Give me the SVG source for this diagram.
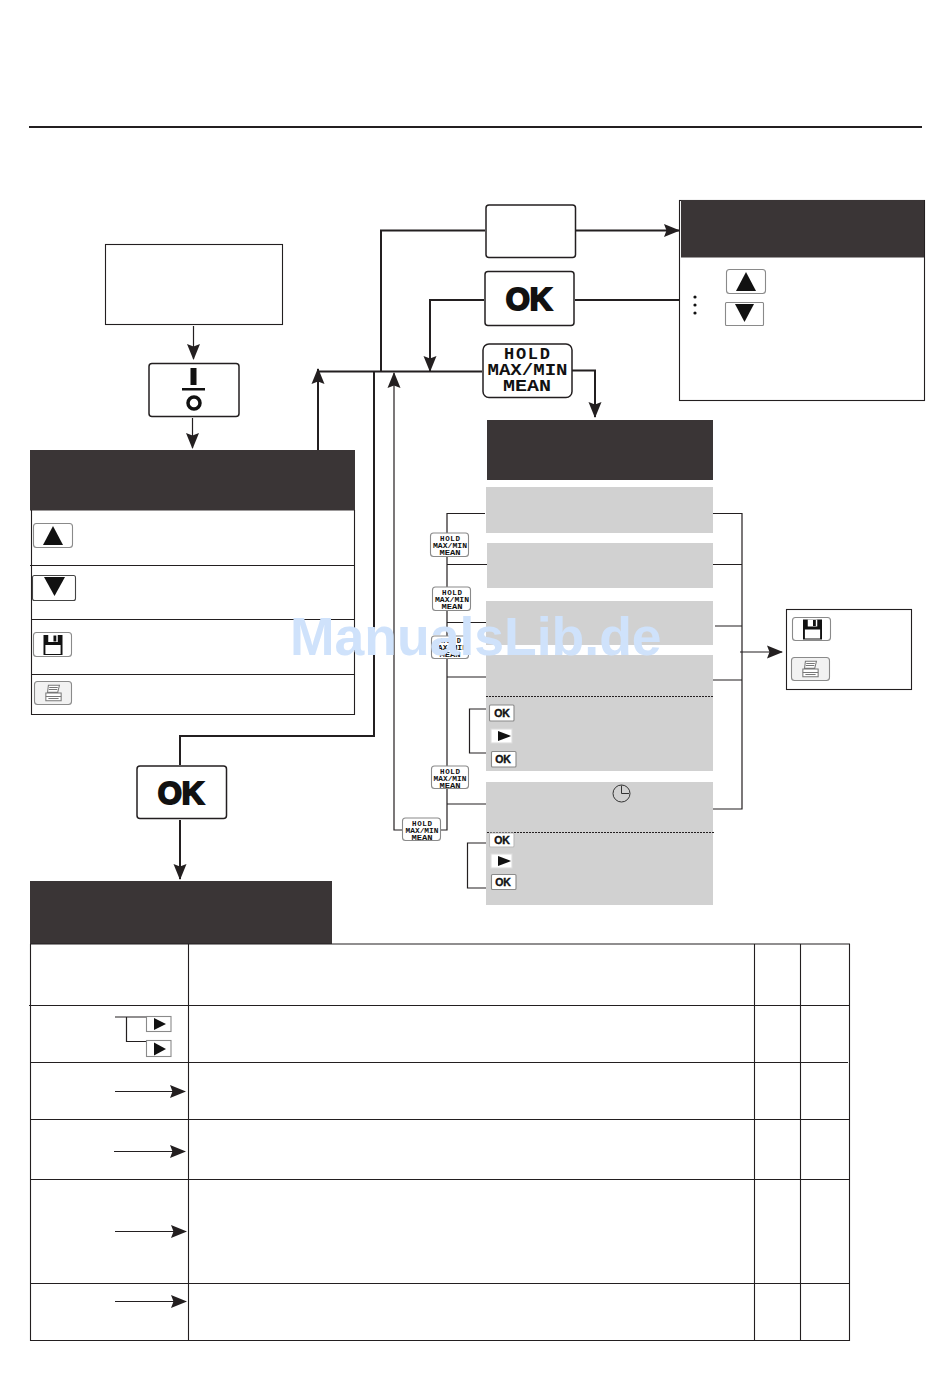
<svg xmlns="http://www.w3.org/2000/svg" width="950" height="1378" viewBox="0 0 950 1378">
<style>
.bg{fill:#fff}
.c{fill:none;stroke:#231f20;stroke-width:2}
.t{fill:none;stroke:#231f20;stroke-width:1.2}
.a{marker-end:url(#ah)}
.dark{fill:#3a3536}
.gray{fill:#d1d1d1}
.box{fill:#fff;stroke:#231f20;stroke-width:1.1}
.big{fill:#fff;stroke:#231f20;stroke-width:1.5}
.key{fill:#fff;stroke:#8a8a8a;stroke-width:1.1}
.ok{font-family:"Liberation Sans",Arial,sans-serif;font-weight:700;fill:#111;text-anchor:middle;stroke:#111}
.hold{font-family:"Liberation Mono",monospace;font-weight:700;fill:#111;text-anchor:middle}
.g{fill:#111}
.wm{font-family:"Liberation Sans",Arial,sans-serif;font-weight:700;font-size:53.500px;fill:#cfe2fb}
</style>
<defs>
<marker id="ah" markerUnits="userSpaceOnUse" markerWidth="18" markerHeight="16" refX="15" refY="7.500" orient="auto">
<path d="M0,1 L16,7.500 L0,14 L2.500,7.500 Z" fill="#231f20"/>
</marker>
<symbol id="floppy" viewBox="0 0 20 20" preserveAspectRatio="none" overflow="visible">
<path d="M0,0H20V20H0Z" fill="#111"/>
<path d="M2,10H18V19H2Z" fill="#fff"/>
<path d="M5,0H15V7H5Z" fill="#fff"/>
<path d="M10.500,0.500H13.500V6.500H10.500Z" fill="#111"/>
</symbol>
<symbol id="printer" viewBox="0 0 20 20" overflow="visible">
<path d="M4,1H17L15,9H3Z M1,10H19V19H1Z" fill="#fff" stroke="#777" stroke-width="1.2"/>
<path d="M5,3.500H15 M4.500,6H14.500 M1,14H19 M4,16.500H16" stroke="#777" stroke-width="1.2" fill="none"/>
</symbol>
</defs>
<rect class="bg" width="950" height="1378"/>
<g id="connectors">
<path class="c" d="M29,127H922"/>
<path class="t a" d="M193.500,326V359"/>
<path class="t a" d="M192.500,418V448"/>
<path class="c a" d="M318,450V369"/>
<path class="c" d="M318,371.500H482"/>
<path class="c" d="M381,371V230.500H485"/>
<path class="c a" d="M576,230.500H679"/>
<path class="c" d="M575,300H679"/>
<path class="c a" d="M484,300H430V371"/>
<path class="c a" d="M572,370.500H595V417"/>
<path class="c" d="M374,371V736H180V765"/>
<path class="c a" d="M180,820V879"/>
<path class="t a" d="M402,830H394V373"/>
<path class="t" d="M441,830H447V513.500H485"/>
<path class="t" d="M447,564.500H487M447,622.500H486M447,677H486M447,804H486"/>
<path class="t" d="M713,513.500H742V809H713M713,564.500H742M715,626H742M713,680H742"/>
<path class="t a" d="M740,652H782"/>
<path class="t" d="M489,709H469.500V753H491"/>
<path class="t" d="M489,843H467.500V888H491"/>
<path class="t" d="M115,1017H146M126.500,1017V1041.500H146"/>
<path class="t a" d="M115,1091.500H185"/>
<path class="t a" d="M114,1151.500H185"/>
<path class="t a" d="M115,1231.500H186"/>
<path class="t a" d="M115,1301.500H186"/>
</g>
<g id="start"><rect class="box" x="105.500" y="244.500" width="177" height="80"/></g>
<g id="key-power">
<rect class="big" x="149" y="363.500" width="90" height="53" rx="3"/>
<rect class="g" x="190.500" y="368" width="6" height="17"/>
<rect class="g" x="182" y="388" width="23" height="2.500"/>
<circle cx="194" cy="403" r="6" fill="none" stroke="#111" stroke-width="3.500"/>
</g>
<g id="menu-main">
<rect class="dark" x="30" y="450" width="325" height="60.500"/>
<path class="box" d="M31.500,510V714.500H354.500V510M30,565.500H354.500M31,619.500H354.500M31,674.500H354" style="fill:none"/>
<rect class="key" x="33.500" y="523.500" width="39" height="24" rx="3"/>
<path class="g" d="M43,545L53,526L63,545Z"/>
<rect class="key" x="32.500" y="575.500" width="43" height="25" rx="2" style="stroke:#444"/>
<path class="g" d="M44,577H65L54.500,596Z"/>
<rect class="key" x="33.500" y="632.500" width="38" height="24" rx="3"/>
<use href="#floppy" x="43.500" y="635" width="19" height="20"/>
<rect class="key" x="34.500" y="681.500" width="37" height="23" rx="3" style="fill:#f2f2f2"/>
<use href="#printer" x="45" y="684" width="17" height="18"/>
</g>
<g id="key-blank"><rect class="big" x="486" y="205" width="89.500" height="52.500" rx="3"/></g>
<g id="key-ok-top">
<rect class="big" x="485" y="271.500" width="89" height="54" rx="3"/>
<text class="ok" x="529" y="309.500" font-size="31" stroke-width="2">OK</text>
</g>
<g id="key-hold-top">
<rect class="big" x="483" y="344" width="89" height="53.500" rx="6"/>
<text class="hold" x="527" y="359" font-size="17" textLength="46" lengthAdjust="spacing">HOLD</text>
<text class="hold" x="527.500" y="375" font-size="17" textLength="80" lengthAdjust="spacingAndGlyphs">MAX/MIN</text>
<text class="hold" x="527" y="391" font-size="17" textLength="48" lengthAdjust="spacingAndGlyphs">MEAN</text>
</g>
<g id="panel-adjust">
<rect class="box" x="679.500" y="200.500" width="245" height="200"/>
<rect class="dark" x="681" y="200" width="243" height="57.500"/>
<rect class="key" x="726.500" y="269.500" width="39" height="24" rx="3"/>
<path class="g" d="M736,291L746,272L756,291Z"/>
<rect class="key" x="725.500" y="302.500" width="38" height="23" rx="1"/>
<path class="g" d="M735,304H754L744.500,322Z"/>
<circle class="g" cx="695" cy="297" r="1.600"/>
<circle class="g" cx="695" cy="305" r="1.600"/>
<circle class="g" cx="695" cy="313" r="1.600"/>
</g>
<g id="panel-hold">
<rect class="dark" x="487" y="420" width="226" height="60"/>
<rect class="gray" x="486" y="487" width="227" height="46"/>
<rect class="gray" x="487" y="543" width="226" height="45"/>
<rect class="gray" x="486" y="601" width="227" height="44"/>
<rect class="gray" x="486" y="655" width="227" height="116"/>
<rect class="gray" x="486" y="782" width="227" height="123"/>
<path d="M486,696.500H713M487,832.500H714" stroke="#231f20" stroke-width="1" stroke-dasharray="2 1" fill="none"/>
<circle cx="621.500" cy="793.500" r="8.500" fill="none" stroke="#333" stroke-width="1"/>
<path d="M621.500,785.500V793.500H629" fill="none" stroke="#333" stroke-width="1"/>
</g>
<g id="hold-keys">
<rect class="key" x="430.500" y="533" width="38" height="23.500" rx="3"/>
<text class="hold" x="450" y="540.500" font-size="7.500" textLength="20" lengthAdjust="spacing">HOLD</text>
<text class="hold" x="450" y="547.500" font-size="7.500" textLength="34" lengthAdjust="spacingAndGlyphs">MAX/MIN</text>
<text class="hold" x="450" y="554.500" font-size="7.500" textLength="21" lengthAdjust="spacingAndGlyphs">MEAN</text>
<rect class="key" x="432.500" y="587" width="38" height="23.500" rx="3"/>
<text class="hold" x="452" y="594.500" font-size="7.500" textLength="20" lengthAdjust="spacing">HOLD</text>
<text class="hold" x="452" y="601.500" font-size="7.500" textLength="34" lengthAdjust="spacingAndGlyphs">MAX/MIN</text>
<text class="hold" x="452" y="608.500" font-size="7.500" textLength="21" lengthAdjust="spacingAndGlyphs">MEAN</text>
<rect class="key" x="431.500" y="636" width="37" height="22.500" rx="3"/>
<text class="hold" x="451" y="643" font-size="7" textLength="20" lengthAdjust="spacing">HOLD</text>
<text class="hold" x="450" y="650" font-size="7" textLength="34" lengthAdjust="spacingAndGlyphs">MAX/MIN</text>
<text class="hold" x="450" y="657" font-size="7" textLength="21" lengthAdjust="spacingAndGlyphs">MEAN</text>
<rect class="key" x="431.500" y="766" width="37" height="22.500" rx="3"/>
<text class="hold" x="450" y="773.500" font-size="7.500" textLength="20" lengthAdjust="spacing">HOLD</text>
<text class="hold" x="450" y="780.500" font-size="7.500" textLength="33" lengthAdjust="spacingAndGlyphs">MAX/MIN</text>
<text class="hold" x="450" y="787.500" font-size="7.500" textLength="21" lengthAdjust="spacingAndGlyphs">MEAN</text>
<rect class="key" x="402.500" y="818" width="38" height="22.500" rx="3"/>
<text class="hold" x="422" y="825.500" font-size="7.500" textLength="20" lengthAdjust="spacing">HOLD</text>
<text class="hold" x="422" y="832.500" font-size="7.500" textLength="33" lengthAdjust="spacingAndGlyphs">MAX/MIN</text>
<text class="hold" x="422" y="839.500" font-size="7.500" textLength="21" lengthAdjust="spacingAndGlyphs">MEAN</text>
</g>
<g id="seq-keys">
<rect class="key" x="489.500" y="705" width="24.500" height="16" rx="1"/>
<text class="ok" x="502" y="717" font-size="10.500" stroke-width=".4">OK</text>
<rect class="key" x="491" y="729" width="21" height="14" style="stroke:#ddd"/>
<path class="g" d="M498,731L511,736L498,741Z"/>
<rect class="key" x="491.500" y="751.500" width="24.500" height="15.500" rx="1"/>
<text class="ok" x="503" y="763" font-size="10.500" stroke-width=".4">OK</text>
<rect class="key" x="489.500" y="833" width="24.500" height="14" rx="1" style="stroke:#bbb"/>
<text class="ok" x="502" y="844" font-size="10.500" stroke-width=".4">OK</text>
<rect class="key" x="491" y="854" width="21" height="14" style="stroke:#ddd"/>
<path class="g" d="M498,856L511,861L498,866Z"/>
<rect class="key" x="491.500" y="874.500" width="24.500" height="15" rx="1"/>
<text class="ok" x="503" y="886" font-size="10.500" stroke-width=".4">OK</text>
</g>
<g id="save-print">
<rect class="box" x="786.500" y="609.500" width="125" height="80"/>
<rect class="key" x="792.500" y="617.500" width="38" height="23" rx="3"/>
<use href="#floppy" x="803" y="619.500" width="19" height="20"/>
<rect class="key" x="791.500" y="657.500" width="38" height="23" rx="3" style="fill:#f2f2f2"/>
<use href="#printer" x="802" y="660" width="17" height="18"/>
</g>
<g id="key-ok-bottom">
<rect class="big" x="137" y="766" width="89.500" height="52.500" rx="3"/>
<text class="ok" x="181" y="803.500" font-size="31" stroke-width="2">OK</text>
</g>
<g id="table">
<rect class="dark" x="30" y="881" width="302" height="63"/>
<path d="M30.500,944V1340.500H849.500V944H30.500M188.500,944V1340.500M754.500,944V1340.500M800.500,944V1340.500M29,1005.500H849.500M30.500,1062.500H848M30.500,1119.500H849.500M30.500,1179.500H849.500M30.500,1283.500H849.500" fill="none" stroke="#231f20" stroke-width="1.100"/>
<rect class="key" x="146.500" y="1016.500" width="24.500" height="15"/>
<path class="g" d="M154,1018L166,1024L154,1030Z"/>
<rect class="key" x="146.500" y="1040.500" width="24.500" height="16"/>
<path class="g" d="M154,1042.500L166,1049L154,1055.500Z"/>
</g>
<text class="wm" x="290" y="655">ManualsLib.de</text>
</svg>
